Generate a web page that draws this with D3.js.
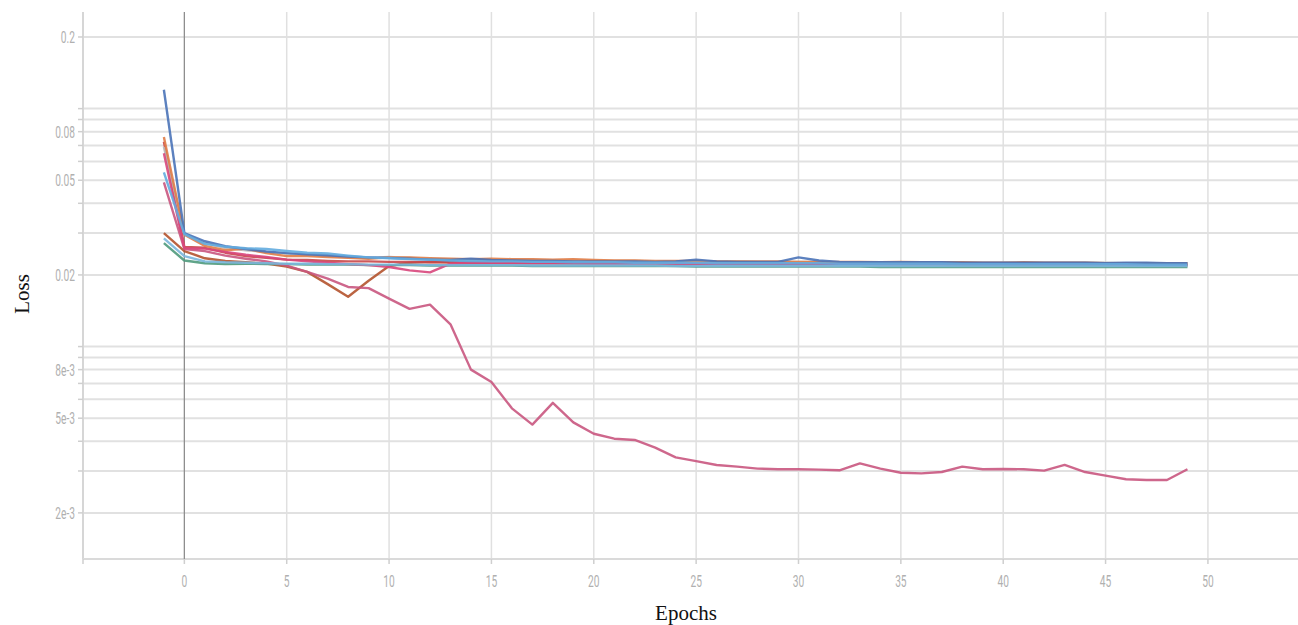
<!DOCTYPE html>
<html>
<head>
<meta charset="utf-8">
<script src="https://cdn.jsdelivr.net/npm/d3@7"></script>
<style>
	body { margin: 0; background: #fff; }
	svg { display: block; }
</style>
</head>
<body>
<div id="chart"></div>
<script>

/* x values of every run: epoch -1 .. 49 */
const epochs = d3.range(-1, 50);

const xTickValues = [-5, 0, 5, 10, 15, 20, 25, 30, 35, 40, 45, 50];
const yLabelValues = [0.2, 0.08, 0.05, 0.02, 0.008, 0.005, 0.002];
const yLabelTexts = ["0.2", "0.08", "0.05", "0.02", "8e-3", "5e-3", "2e-3"];

/* loss per run, one row = 10 epochs */
const runBrown = [
	0.0300, 0.0252, 0.0235, 0.0229, 0.0226, 0.0223, 0.0217, 0.0206, 0.0183, 0.0162,
	0.0189, 0.0218, 0.0225, 0.0227, 0.0226, 0.0225, 0.0225, 0.0225, 0.0224, 0.0224,
	0.0224, 0.0224, 0.0224, 0.0223, 0.0223, 0.0223, 0.0223, 0.0223, 0.0222, 0.0222,
	0.0222, 0.0222, 0.0222, 0.0222, 0.0222, 0.0222, 0.0221, 0.0221, 0.0221, 0.0221,
	0.0221, 0.0221, 0.0221, 0.0221, 0.0221, 0.0221, 0.0220, 0.0220, 0.0220, 0.0220,
	0.0220];
const runRed = [
	0.0725, 0.0262, 0.0260, 0.0248, 0.0240, 0.0236, 0.0232, 0.0231, 0.0229, 0.0228,
	0.0228, 0.0227, 0.0227, 0.0226, 0.0226, 0.0226, 0.0225, 0.0225, 0.0225, 0.0225,
	0.0224, 0.0224, 0.0224, 0.0224, 0.0224, 0.0223, 0.0223, 0.0223, 0.0223, 0.0223,
	0.0223, 0.0223, 0.0223, 0.0223, 0.0222, 0.0222, 0.0222, 0.0222, 0.0222, 0.0222,
	0.0222, 0.0222, 0.0222, 0.0222, 0.0222, 0.0222, 0.0222, 0.0221, 0.0221, 0.0221,
	0.0221];
const runGray = [
	0.0690, 0.0298, 0.0272, 0.0260, 0.0254, 0.0250, 0.0246, 0.0243, 0.0240, 0.0238,
	0.0236, 0.0238, 0.0236, 0.0233, 0.0232, 0.0232, 0.0231, 0.0231, 0.0230, 0.0230,
	0.0230, 0.0229, 0.0229, 0.0229, 0.0228, 0.0228, 0.0228, 0.0228, 0.0228, 0.0227,
	0.0227, 0.0227, 0.0227, 0.0226, 0.0226, 0.0226, 0.0226, 0.0226, 0.0226, 0.0225,
	0.0225, 0.0225, 0.0225, 0.0225, 0.0225, 0.0225, 0.0225, 0.0224, 0.0224, 0.0224,
	0.0224];
const runOrange = [
	0.0760, 0.0295, 0.0265, 0.0254, 0.0258, 0.0247, 0.0240, 0.0240, 0.0238, 0.0236,
	0.0234, 0.0237, 0.0237, 0.0235, 0.0234, 0.0233, 0.0234, 0.0233, 0.0233, 0.0232,
	0.0233, 0.0231, 0.0230, 0.0230, 0.0229, 0.0229, 0.0229, 0.0228, 0.0228, 0.0228,
	0.0228, 0.0227, 0.0227, 0.0227, 0.0227, 0.0226, 0.0227, 0.0226, 0.0226, 0.0226,
	0.0225, 0.0225, 0.0226, 0.0225, 0.0225, 0.0225, 0.0224, 0.0224, 0.0224, 0.0224,
	0.0224];
const runGreen = [
	0.0272, 0.0230, 0.0224, 0.0222, 0.0223, 0.0222, 0.0222, 0.0221, 0.0221, 0.0221,
	0.0220, 0.0220, 0.0220, 0.0219, 0.0219, 0.0219, 0.0219, 0.0219, 0.0218, 0.0218,
	0.0218, 0.0218, 0.0218, 0.0218, 0.0218, 0.0218, 0.0217, 0.0217, 0.0217, 0.0217,
	0.0217, 0.0217, 0.0217, 0.0217, 0.0217, 0.0216, 0.0216, 0.0216, 0.0216, 0.0216,
	0.0216, 0.0216, 0.0216, 0.0216, 0.0216, 0.0216, 0.0216, 0.0216, 0.0216, 0.0216,
	0.0216];
const runMauve = [
	0.0490, 0.0257, 0.0252, 0.0241, 0.0234, 0.0228, 0.0219, 0.0206, 0.0193, 0.0178,
	0.0176, 0.0159, 0.0144, 0.0150, 0.0124, 0.0080, 0.0071, 0.0055, 0.0047, 0.0058,
	0.0048, 0.0043, 0.0041, 0.00405, 0.00376, 0.00342, 0.0033, 0.00318, 0.00313, 0.00307,
	0.00305, 0.00305, 0.00304, 0.00302, 0.00323, 0.00307, 0.00295, 0.00293, 0.00297, 0.00313,
	0.00305, 0.00306, 0.00305, 0.00301, 0.00318, 0.00297, 0.00287, 0.00277, 0.00275, 0.00275,
	0.00305];
const runPink = [
	0.0650, 0.0259, 0.0258, 0.0250, 0.0243, 0.0238, 0.0232, 0.0228, 0.0225, 0.0222,
	0.0220, 0.0216, 0.0209, 0.0205, 0.0223, 0.0225, 0.0225, 0.0224, 0.0224, 0.0224,
	0.0224, 0.0223, 0.0223, 0.0223, 0.0223, 0.0223, 0.0222, 0.0222, 0.0222, 0.0222,
	0.0222, 0.0222, 0.0222, 0.0222, 0.0222, 0.0221, 0.0221, 0.0221, 0.0221, 0.0221,
	0.0221, 0.0221, 0.0221, 0.0221, 0.0221, 0.0221, 0.0221, 0.0220, 0.0220, 0.0220,
	0.0220];
const runBlue = [
	0.1200, 0.0300, 0.0277, 0.0264, 0.0257, 0.0251, 0.0247, 0.0244, 0.0242, 0.0239,
	0.0237, 0.0236, 0.0234, 0.0232, 0.0231, 0.0234, 0.0231, 0.0230, 0.0229, 0.0229,
	0.0228, 0.0228, 0.0228, 0.0228, 0.0227, 0.0228, 0.0232, 0.0228, 0.0227, 0.0227,
	0.0227, 0.0237, 0.0230, 0.0227, 0.0226, 0.0226, 0.0226, 0.0226, 0.0226, 0.0225,
	0.0225, 0.0225, 0.0225, 0.0225, 0.0225, 0.0225, 0.0224, 0.0225, 0.0225, 0.0224,
	0.0224];
const runSky = [
	0.0285, 0.0240, 0.0228, 0.0226, 0.0225, 0.0224, 0.0223, 0.0223, 0.0222, 0.0222,
	0.0221, 0.0221, 0.0221, 0.0220, 0.0220, 0.0220, 0.0220, 0.0220, 0.0219, 0.0219,
	0.0219, 0.0219, 0.0219, 0.0219, 0.0219, 0.0218, 0.0218, 0.0218, 0.0218, 0.0218,
	0.0218, 0.0218, 0.0218, 0.0218, 0.0218, 0.0218, 0.0218, 0.0218, 0.0218, 0.0218,
	0.0218, 0.0218, 0.0218, 0.0218, 0.0218, 0.0218, 0.0218, 0.0218, 0.0218, 0.0218,
	0.0218];
const runLightBlue = [
	0.0540, 0.0297, 0.0270, 0.0263, 0.0259, 0.0257, 0.0252, 0.0248, 0.0246, 0.0241,
	0.0237, 0.0235, 0.0233, 0.0232, 0.0230, 0.0229, 0.0228, 0.0228, 0.0227, 0.0227,
	0.0226, 0.0226, 0.0226, 0.0225, 0.0225, 0.0225, 0.0225, 0.0224, 0.0224, 0.0224,
	0.0224, 0.0224, 0.0224, 0.0223, 0.0223, 0.0223, 0.0223, 0.0223, 0.0223, 0.0222,
	0.0222, 0.0222, 0.0222, 0.0222, 0.0222, 0.0222, 0.0222, 0.0222, 0.0221, 0.0221,
	0.0221];

const runValues = [runBrown, runRed, runGray, runOrange, runGreen, runMauve, runPink, runBlue, runSky, runLightBlue];
const runColors = ["#b4532d", "#c9474a", "#b9b9b9", "#e07d48", "#4f9a7c", "#c9577f", "#d8477c", "#4a73b8", "#7ab6dc", "#63acdf"];

class LossChart {

	constructor(options) {
		this._opt = options;
	}

	createSVG() {
		this.svg = d3.select(this._opt.selector)
			.append("svg")
			.attr("width", this._opt.width)
			.attr("height", this._opt.height)
			.style("background", "#fff");

		this.x = d3.scaleLinear().domain([-5, 54.4]).range([82, 1298]);
		this.y = d3.scaleLog().domain([0.2547, 0.00128]).range([12, 559]);

		this.createGrid();
		this.createAxes();
		this.createRuns();
		this.createTitles();
	}

	/* small condensed tick text, like the original */
	label(g, x, y, text, anchor) {
		g.append("text")
			.attr("transform", `translate(${x},${y}) scale(0.6,1)`)
			.attr("text-anchor", anchor)
			.attr("dy", "0.36em")
			.attr("font-family", "Roboto, 'DejaVu Sans', sans-serif")
			.attr("font-size", "17px")
			.attr("fill", "#b0b0b0")
			.text(text);
	}

	createGrid() {
		const grid = this.svg.append("g").attr("class", "grid");
		const [x0, x1] = this.x.range();
		const [y0, y1] = this.y.range();

		grid.selectAll(".hline")
			.data(this.y.ticks())
			.enter()
			.append("line")
				.attr("class", "hline")
				.attr("x1", x0 + 1).attr("x2", x1)
				.attr("y1", (d) => this.y(d)).attr("y2", (d) => this.y(d))
				.style("stroke", "#e1e1e1")
				.style("stroke-width", 2);

		grid.selectAll(".vline")
			.data(xTickValues.filter((d) => d > 0))
			.enter()
			.append("line")
				.attr("class", "vline")
				.attr("x1", (d) => this.x(d)).attr("x2", (d) => this.x(d))
				.attr("y1", y0).attr("y2", y1)
				.style("stroke", "#e0e0e0")
				.style("stroke-width", 1.5);
	}

	createAxes() {
		const axes = this.svg.append("g").attr("class", "axes");
		const [x0, x1] = this.x.range();
		const [y0, y1] = this.y.range();
		const left = x0 + 1;

		/* y axis */
		axes.append("line")
			.attr("x1", left).attr("x2", left).attr("y1", y0).attr("y2", y1)
			.style("stroke", "#d6d6d6").style("stroke-width", 2);
		axes.selectAll(".ytick")
			.data(this.y.ticks())
			.enter()
			.append("line")
				.attr("class", "ytick")
				.attr("x1", left - 5).attr("x2", left)
				.attr("y1", (d) => this.y(d)).attr("y2", (d) => this.y(d))
				.style("stroke", "#cfcfcf").style("stroke-width", 1.5);
		yLabelValues.forEach((v, i) => this.label(axes, left - 8, this.y(v), yLabelTexts[i], "end"));

		/* x axis */
		axes.append("line")
			.attr("x1", left).attr("x2", x1).attr("y1", y1).attr("y2", y1)
			.style("stroke", "#dadada").style("stroke-width", 2);
		axes.selectAll(".xtick")
			.data(xTickValues)
			.enter()
			.append("line")
				.attr("class", "xtick")
				.attr("x1", (d) => Math.max(this.x(d), left)).attr("x2", (d) => Math.max(this.x(d), left))
				.attr("y1", y1).attr("y2", y1 + 5)
				.style("stroke", "#cfcfcf").style("stroke-width", 1.5);
		xTickValues.filter((d) => d >= 0)
			.forEach((d) => this.label(axes, this.x(d), y1 + 22, String(d), "middle"));

		/* zero line */
		axes.append("line")
			.attr("x1", this.x(0)).attr("x2", this.x(0)).attr("y1", y0).attr("y2", y1)
			.style("stroke", "#8e8e8e").style("stroke-width", 1.3);
	}

	createRuns() {
		const line = d3.line()
			.x((d, i) => this.x(epochs[i]))
			.y((d) => this.y(d));

		this.svg.append("g")
			.attr("class", "runs")
			.selectAll("path")
			.data(runValues)
			.enter()
			.append("path")
				.attr("d", line)
				.style("fill", "none")
				.style("stroke", (d, i) => runColors[i])
				.style("stroke-width", 2.4)
				.style("stroke-linejoin", "round")
				.style("opacity", 0.9);
	}

	createTitles() {
		const font = "'Liberation Serif', 'DejaVu Serif', serif";
		this.svg.append("text")
			.attr("transform", "translate(29,294) rotate(-90)")
			.attr("text-anchor", "middle")
			.attr("font-family", font)
			.attr("font-size", "21px")
			.attr("fill", "#111")
			.text("Loss");
		this.svg.append("text")
			.attr("x", 686).attr("y", 620)
			.attr("text-anchor", "middle")
			.attr("font-family", font)
			.attr("font-size", "21px")
			.attr("fill", "#111")
			.text("Epochs");
	}
}

const chart = new LossChart({ selector: "#chart", width: 1298, height: 625 });
chart.createSVG();

</script>
</body>
</html>
